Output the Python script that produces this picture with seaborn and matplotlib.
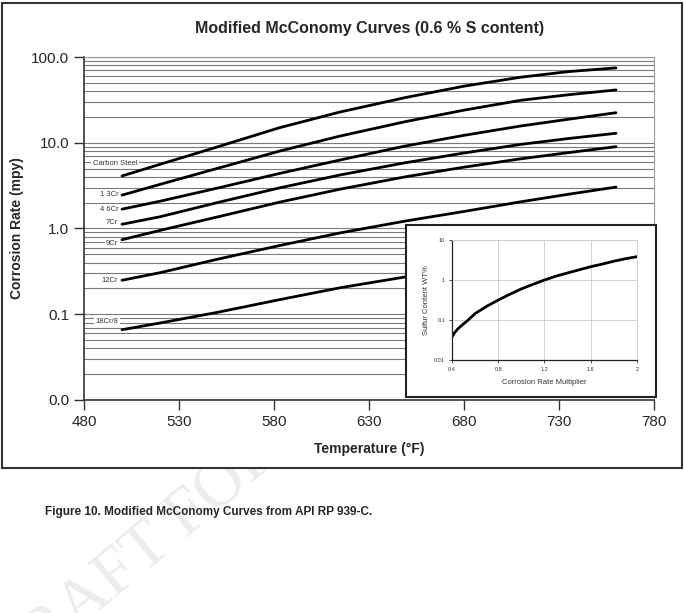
import numpy as np
import pandas as pd
import seaborn as sns
import matplotlib.pyplot as plt
from matplotlib.patches import Rectangle
from matplotlib.ticker import LogLocator, NullFormatter

# main chart data (mpy)
temps = [500, 520, 550, 583, 615, 649, 680, 710, 735, 760]
carbon_steel = [4.10, 5.60, 8.91, 15.0, 22.9, 33.6, 45.7, 58.2, 67.6, 74.6]
cr_1_3 = [2.45, 3.27, 5.01, 8.0, 12.0, 17.6, 24.0, 31.3, 36.3, 41.3]
cr_4_6 = [1.68, 2.08, 2.95, 4.39, 6.31, 9.15, 12.2, 15.7, 18.8, 22.4]
cr_7 = [1.12, 1.37, 2.0, 2.98, 4.22, 5.84, 7.59, 9.58, 11.2, 12.9]
cr_9 = [0.74, 0.95, 1.36, 2.03, 2.88, 4.0, 5.19, 6.5, 7.67, 9.0]
cr_12 = [0.249, 0.305, 0.437, 0.633, 0.89, 1.22, 1.58, 2.05, 2.51, 3.04]
cr_18_8 = [0.066, 0.079, 0.105, 0.148, 0.204, 0.272, 0.37, 0.45, 0.56, 0.68]
alloys = ["Carbon Steel", "1 3Cr", "4 6Cr", "7Cr", "9Cr", "12Cr", "18Cr/8"]
series = [carbon_steel, cr_1_3, cr_4_6, cr_7, cr_9, cr_12, cr_18_8]

# inset: sulfur content vs corrosion rate multiplier
mult = [0.4, 0.42, 0.45, 0.5, 0.54, 0.6, 0.7, 0.8, 0.9, 1.0, 1.1, 1.2, 1.3,
        1.4, 1.5, 1.6, 1.7, 1.8, 1.9, 2.0]
sulfur = [0.038, 0.047, 0.06, 0.08, 0.1, 0.145, 0.22, 0.316, 0.44, 0.6, 0.78,
          1.0, 1.25, 1.5, 1.8, 2.15, 2.5, 2.95, 3.4, 3.83]

df = pd.DataFrame({
    "temp": temps * len(alloys),
    "rate": [v for s in series for v in s],
    "alloy": [a for a in alloys for _ in temps],
})
ins = pd.DataFrame({"mult": mult, "sulfur": sulfur})

sns.set_theme(style="white")
plt.rcParams["font.family"] = ["Liberation Sans", "DejaVu Sans"]

fig = plt.figure(figsize=(6.84, 6.13), dpi=100)

# faint watermark behind the chart box
fig.text(-0.035, -0.12, "DRAFT FOR COMMENT", rotation=40, fontsize=48,
         color="#ececec", family="Liberation Serif", zorder=-3)
fig.add_artist(Rectangle((0.003, 0.2365), 0.994, 0.7586, transform=fig.transFigure,
                         facecolor="white", edgecolor="#333333", lw=1.5, zorder=-1))

ax = fig.add_axes([0.1228, 0.3475, 0.8333, 0.5595])
sns.lineplot(data=df, x="temp", y="rate", hue="alloy", palette=["black"] * 7,
             legend=False, lw=2, ax=ax)
ax.set_yscale("log")
ax.set_ylim(0.01, 100)
ax.set_xlim(480, 780)
ax.set_xticks(range(480, 781, 50))
ax.set_yticks([0.01, 0.1, 1, 10, 100])
ax.set_yticklabels(["0.0", "0.1", "1.0", "10.0", "100.0"])
ax.yaxis.set_minor_locator(LogLocator(base=10, subs=np.arange(2, 10)))
ax.yaxis.set_minor_formatter(NullFormatter())
ax.yaxis.grid(True, which="both", color="#7a7a7a", lw=0.8)
ax.xaxis.grid(False)
ax.tick_params(axis="both", which="major", labelsize=11, direction="out",
               length=7, width=1, color="#333333", left=True, bottom=True)
ax.tick_params(axis="y", which="minor", length=0)
for side in ["left", "bottom"]:
    ax.spines[side].set_color("#333333")
    ax.spines[side].set_linewidth(1.2)
for side in ["top", "right"]:
    ax.spines[side].set_color("#999999")
    ax.spines[side].set_linewidth(0.8)
ax.set_xlabel("Temperature (°F)", fontsize=10, fontweight="bold", labelpad=10)
ax.set_ylabel("Corrosion Rate (mpy)", fontsize=10, fontweight="bold")
ax.yaxis.set_label_coords(-0.105, 0.5)

lab_pos = [(508, 5.8), (498, 2.5), (498, 1.68), (498, 1.16), (498, 0.668),
           (498, 0.249), (498, 0.083)]
for name, (tx, ty) in zip(alloys, lab_pos):
    ax.text(tx, ty, name, ha="right", va="center", fontsize=5.5, color="#333333",
            bbox=dict(facecolor="white", edgecolor="none", pad=1))

fig.text(0.54, 0.954, "Modified McConomy Curves (0.6 % S content)", ha="center",
         va="center", fontsize=11.5, fontweight="bold")

# inset
fig.add_artist(Rectangle((0.5936, 0.3524), 0.3655, 0.2806, transform=fig.transFigure,
                         facecolor="white", edgecolor="#222222", lw=1.5, zorder=2))
axi = fig.add_axes([0.6608, 0.4127, 0.2705, 0.1958], zorder=3)
sns.lineplot(data=ins, x="mult", y="sulfur", color="black", lw=2, ax=axi)
axi.set_yscale("log")
axi.set_ylim(0.01, 10)
axi.set_xlim(0.4, 2)
axi.set_xticks([0.4, 0.8, 1.2, 1.6, 2.0])
axi.set_xticklabels(["0.4", "0.8", "1.2", "1.6", "2"])
axi.set_yticks([0.01, 0.1, 1, 10])
axi.set_yticklabels(["0.01", "0.1", "1", "10"])
axi.yaxis.set_minor_formatter(NullFormatter())
axi.tick_params(axis="y", which="minor", length=0)
axi.tick_params(which="major", labelsize=4, length=2, width=0.6, pad=3,
                color="#333333", left=True, bottom=True, labelcolor="#333333")
axi.grid(True, which="major", color="#cccccc", lw=0.6)
for side in ["left", "bottom"]:
    axi.spines[side].set_color("#222222")
    axi.spines[side].set_linewidth(0.9)
for side in ["top", "right"]:
    axi.spines[side].set_color("#cccccc")
    axi.spines[side].set_linewidth(0.6)
axi.set_xlabel("Corrosion Rate Multiplier", fontsize=5.5, color="#333333", labelpad=5)
axi.set_ylabel("Sulfur Content WT%", fontsize=5.5, color="#333333", labelpad=3)

fig.text(0.066, 0.165, "Figure 10. Modified McConomy Curves from API RP 939-C.",
         ha="left", va="center", fontsize=8.5, fontweight="bold")

fig.savefig("out.png", dpi=100)
